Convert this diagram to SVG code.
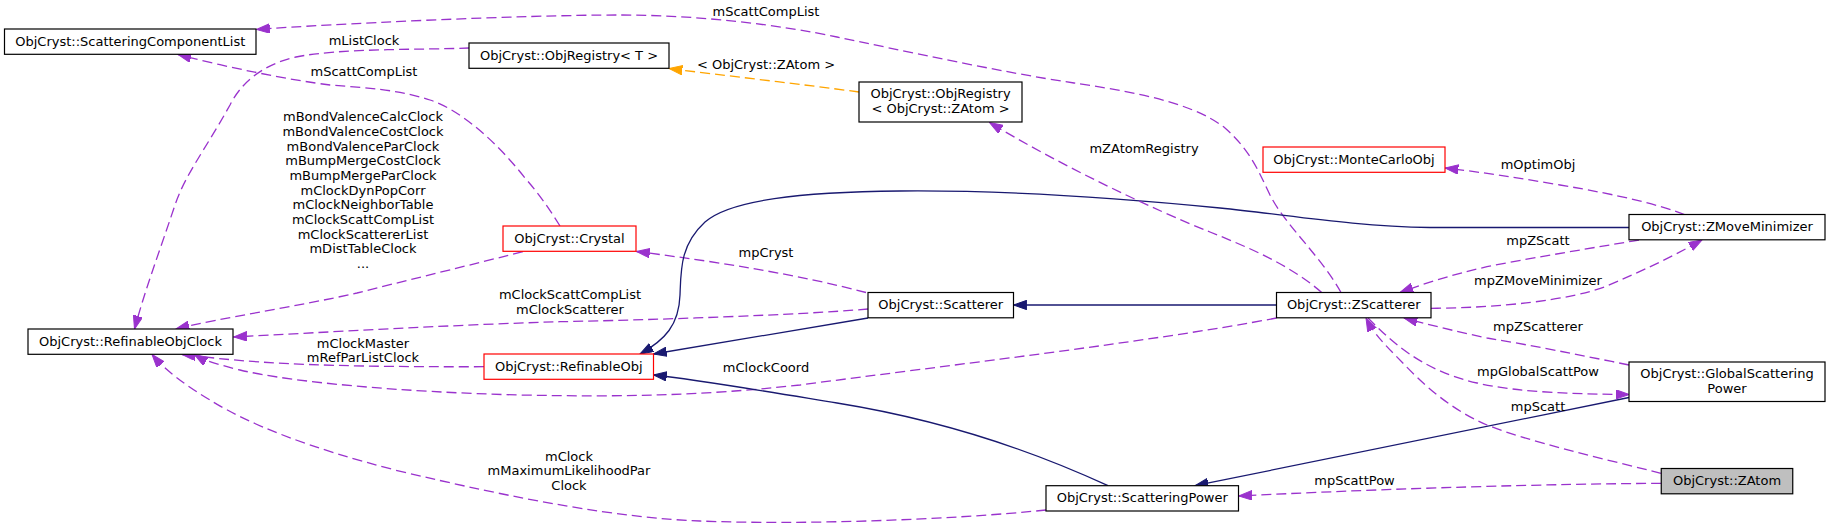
<svg xmlns="http://www.w3.org/2000/svg" width="1831" height="529" viewBox="0 0 1831 529">
<style>
text{font-family:"DejaVu Sans","Liberation Sans",sans-serif;font-size:13px;fill:#000;}
.n{text-anchor:middle;}
.lb{text-anchor:middle;}
rect.box{fill:#fff;stroke:#000;stroke-width:1.2;}
rect.red{fill:#fff;stroke:#ff0000;stroke-width:1.2;}
rect.cur{fill:#bfbfbf;stroke:#000;stroke-width:1.2;}
.u{fill:none;stroke:#9a32cd;stroke-width:1.3;stroke-dasharray:10,5;marker-end:url(#ap);}
.i{fill:none;stroke:#191970;stroke-width:1.3;marker-end:url(#ab);}
.t{fill:none;stroke:#ffa500;stroke-width:1.3;stroke-dasharray:10,5;marker-end:url(#ao);}
</style>
<defs>
<marker id="ap" markerUnits="userSpaceOnUse" markerWidth="14" markerHeight="10" refX="13.3" refY="4.7" orient="auto"><path d="M0,0 L13.3,4.7 L0,9.4 z" fill="#9a32cd" stroke="#9a32cd" stroke-width="1"/></marker>
<marker id="ab" markerUnits="userSpaceOnUse" markerWidth="14" markerHeight="10" refX="13.3" refY="4.7" orient="auto"><path d="M0,0 L13.3,4.7 L0,9.4 z" fill="#191970" stroke="#191970" stroke-width="1"/></marker>
<marker id="ao" markerUnits="userSpaceOnUse" markerWidth="14" markerHeight="10" refX="13.3" refY="4.7" orient="auto"><path d="M0,0 L13.3,4.7 L0,9.4 z" fill="#ffa500" stroke="#ffa500" stroke-width="1"/></marker>
</defs>
<rect width="1831" height="529" fill="#fff"/>
<g id="connectors">
<path class="u" d="M1341,292.5 C1320,255 1285,225 1270,195 C1258,170 1250,150 1225,128 C1190,100 1120,90 1074,83 C1000,72 900,50 837,37 C780,25 700,15 620,15 C520,15 330,24 256.5,29.5"/>
<path class="u" d="M469,48 C420,50 340,48 296,57 C260,65 240,85 230,105 C205,150 185,175 175,205 C160,250 145,290 134.5,329"/>
<path class="u" d="M560,226 C550,210 540,195 525,178 C495,140 460,110 430,100 C400,90 370,88 330,85 C290,80 230,68 178,54.5"/>
<path class="u" d="M523,251.7 C450,270 400,282 357,293 C300,306 220,318 176,329"/>
<path class="u" d="M868,309 C800,315 650,320 560,321.7 C450,325 330,332 233.5,337"/>
<path class="u" d="M484,366.7 C400,367 320,366 260,362 C230,360 205,357 182,354.5"/>
<path class="u" d="M1276.5,318 C1150,342 950,365 800,385 C700,396 620,397 520,395 C400,392 290,382 240,370 C220,365 205,361 194.5,354.5"/>
<path class="u" d="M1046,510 C950,520 800,525 700,521 C620,518 520,500 395,470 C310,448 250,425 210,400 C185,385 165,370 152,354.5"/>
<path class="u" d="M866,292.5 C800,275 720,262 636.5,251.5"/>
<path class="i" d="M868,318 L653.5,354"/>
<path class="i" d="M1629,227.5 L1430,227.5 C1350,226 1290,215 1220,208 C1120,198 1010,190 900,191 C800,192 730,200 705,222 C680,245 681,270 680,295 C679,325 665,340 640,354"/>
<path class="i" d="M1108,485.7 C1020,445 930,418 837,403 C770,392 700,380 653.5,375"/>
<path class="i" d="M1276.5,305 L1013.5,305"/>
<path class="i" d="M1629,397.5 L1195,485.7"/>
<path class="t" d="M859,92 C800,84 720,75 669,68.5"/>
<path class="u" d="M1321.7,292.5 C1290,265 1250,248 1210,232 C1150,208 1060,165 989.5,122.5"/>
<path class="u" d="M1684.5,214.5 C1660,205 1620,195 1560,185 C1520,178 1480,172 1445,168"/>
<path class="u" d="M1639,240 C1580,250 1520,260 1487,266.7 C1450,275 1420,285 1400,292.5"/>
<path class="u" d="M1431,308.3 C1500,308 1570,300 1605,286.7 C1640,272 1670,258 1702,240"/>
<path class="u" d="M1629,365 C1580,355 1530,345 1487,338 C1450,330 1430,325 1404,318"/>
<path class="u" d="M1368,318 C1390,340 1420,370 1477,383 C1520,393 1580,394 1629,394.5"/>
<path class="u" d="M1661,473.3 C1600,458 1530,442 1487,425 C1440,405 1410,370 1395,355 C1380,340 1372,330 1366,318"/>
<path class="u" d="M1661,483.3 C1550,484 1400,488 1238.5,496"/>
<text class="lb" x="766" y="16">mScattCompList</text>
<text class="lb" x="364" y="44.5">mListClock</text>
<text class="lb" x="364" y="76">mScattCompList</text>
<text class="lb" x="363" y="121.2">mBondValenceCalcClock</text>
<text class="lb" x="363" y="135.9">mBondValenceCostClock</text>
<text class="lb" x="363" y="150.5">mBondValenceParClock</text>
<text class="lb" x="363" y="165.2">mBumpMergeCostClock</text>
<text class="lb" x="363" y="179.9">mBumpMergeParClock</text>
<text class="lb" x="363" y="194.5">mClockDynPopCorr</text>
<text class="lb" x="363" y="209.2">mClockNeighborTable</text>
<text class="lb" x="363" y="223.9">mClockScattCompList</text>
<text class="lb" x="363" y="238.5">mClockScattererList</text>
<text class="lb" x="363" y="253.2">mDistTableClock</text>
<text class="lb" x="363" y="267.9">...</text>
<text class="lb" x="766" y="69">&lt; ObjCryst::ZAtom &gt;</text>
<text class="lb" x="1144" y="153">mZAtomRegistry</text>
<text class="lb" x="1538" y="168.5">mOptimObj</text>
<text class="lb" x="766" y="257">mpCryst</text>
<text class="lb" x="1538" y="244.5">mpZScatt</text>
<text class="lb" x="1538" y="285">mpZMoveMinimizer</text>
<text class="lb" x="570" y="299">mClockScattCompList</text>
<text class="lb" x="570" y="313.5">mClockScatterer</text>
<text class="lb" x="363" y="347.5">mClockMaster</text>
<text class="lb" x="363" y="362">mRefParListClock</text>
<text class="lb" x="1538" y="331">mpZScatterer</text>
<text class="lb" x="766" y="372">mClockCoord</text>
<text class="lb" x="1538" y="376">mpGlobalScattPow</text>
<text class="lb" x="1538" y="411">mpScatt</text>
<text class="lb" x="569" y="460.5">mClock</text>
<text class="lb" x="569" y="475">mMaximumLikelihoodPar</text>
<text class="lb" x="569" y="490">Clock</text>
<text class="lb" x="1354.5" y="484.5">mpScattPow</text>
</g>
<g id="node-ScatteringComponentList"><rect class="box" x="4.5" y="29" width="251.5" height="25.3"/><text class="n" x="130.25" y="45.5">ObjCryst::ScatteringComponentList</text></g>
<g id="node-ObjRegistryT"><rect class="box" x="469" y="43" width="200" height="25.3"/><text class="n" x="569" y="59.5">ObjCryst::ObjRegistry&lt; T &gt;</text></g>
<g id="node-ObjRegistryZAtom"><rect class="box" x="859" y="82" width="163" height="40"/><text class="n" x="940.5" y="98">ObjCryst::ObjRegistry</text><text class="n" x="940.5" y="112.7">&lt; ObjCryst::ZAtom &gt;</text></g>
<g id="node-MonteCarloObj"><rect class="red" x="1263" y="147" width="182" height="25.3"/><text class="n" x="1354" y="163.5">ObjCryst::MonteCarloObj</text></g>
<g id="node-Crystal"><rect class="red" x="503" y="226" width="133" height="25.3"/><text class="n" x="569.5" y="242.5">ObjCryst::Crystal</text></g>
<g id="node-RefinableObjClock"><rect class="box" x="28" y="329" width="205" height="25.3"/><text class="n" x="130.5" y="345.5">ObjCryst::RefinableObjClock</text></g>
<g id="node-RefinableObj"><rect class="red" x="484" y="354" width="169.5" height="25.3"/><text class="n" x="568.75" y="370.5">ObjCryst::RefinableObj</text></g>
<g id="node-Scatterer"><rect class="box" x="868" y="292.5" width="145.5" height="25.3"/><text class="n" x="940.75" y="309">ObjCryst::Scatterer</text></g>
<g id="node-ZScatterer"><rect class="box" x="1276.5" y="292.5" width="154.5" height="25.3"/><text class="n" x="1353.75" y="309">ObjCryst::ZScatterer</text></g>
<g id="node-ZMoveMinimizer"><rect class="box" x="1629" y="214.5" width="196" height="25.3"/><text class="n" x="1727" y="231">ObjCryst::ZMoveMinimizer</text></g>
<g id="node-GlobalScatteringPower"><rect class="box" x="1629" y="362" width="196" height="39.5"/><text class="n" x="1727" y="378">ObjCryst::GlobalScattering</text><text class="n" x="1727" y="392.7">Power</text></g>
<g id="node-ZAtom"><rect class="cur" x="1661.25" y="468.5" width="131.5" height="25.3"/><text class="n" x="1727" y="485">ObjCryst::ZAtom</text></g>
<g id="node-ScatteringPower"><rect class="box" x="1046" y="485.7" width="192.5" height="25.3"/><text class="n" x="1142.25" y="502.2">ObjCryst::ScatteringPower</text></g>
</svg>
